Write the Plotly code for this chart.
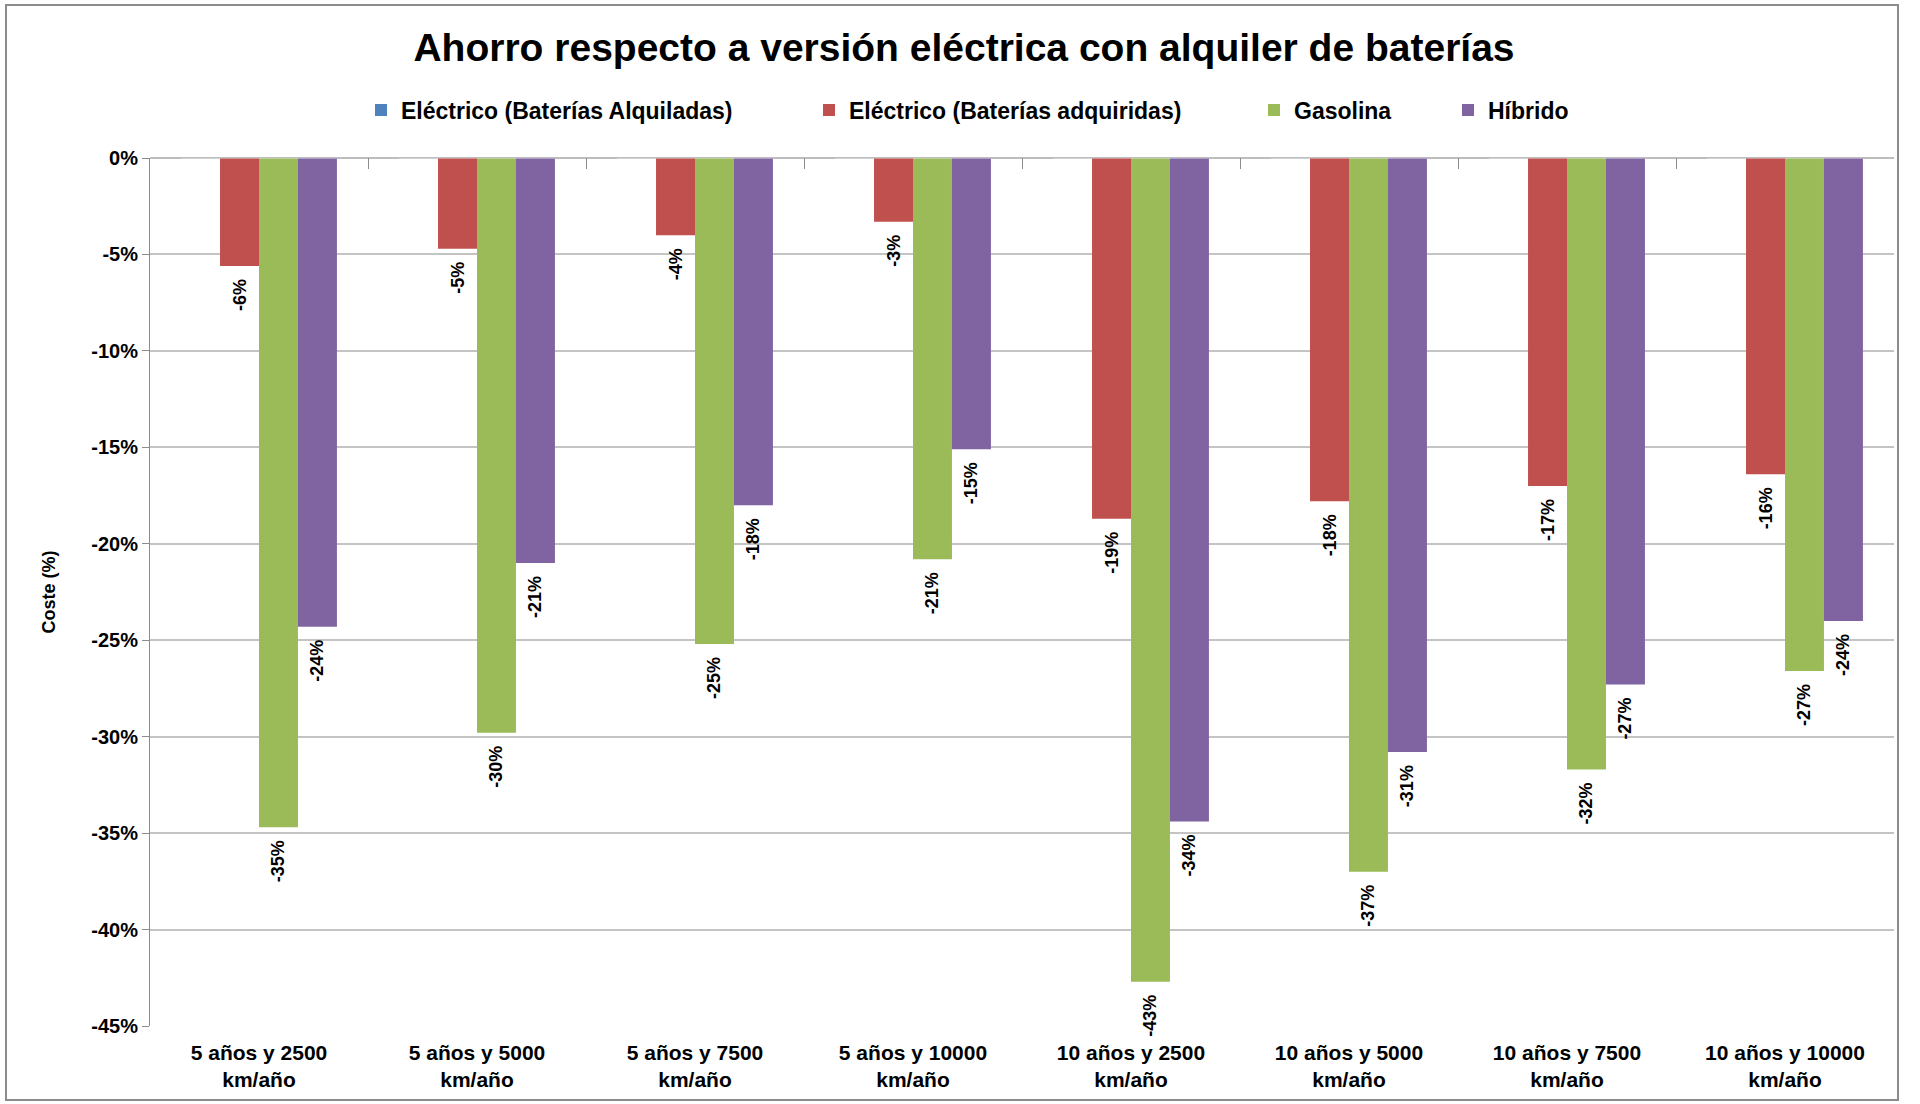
import plotly.graph_objects as go

# Categories and series (percent saving vs. the electric version with rented batteries)
categories = [
    "5 años y 2500<br>km/año", "5 años y 5000<br>km/año", "5 años y 7500<br>km/año",
    "5 años y 10000<br>km/año", "10 años y 2500<br>km/año", "10 años y 5000<br>km/año",
    "10 años y 7500<br>km/año", "10 años y 10000<br>km/año",
]
electrico_alquiladas = [0, 0, 0, 0, 0, 0, 0, 0]
electrico_adquiridas = [-5.6, -4.7, -4.0, -3.3, -18.7, -17.8, -17.0, -16.4]
gasolina = [-34.7, -29.8, -25.2, -20.8, -42.7, -37.0, -31.7, -26.6]
hibrido = [-24.3, -21.0, -18.0, -15.1, -34.4, -30.8, -27.3, -24.0]

y_ticks = [0, -5, -10, -15, -20, -25, -30, -35, -40, -45]
y_tick_text = [f"{v}%" for v in y_ticks]

FONT = "Liberation Sans, Arial, sans-serif"
W, H = 1920, 1104
M = dict(l=150, r=26, t=158, b=78)
pw = W - M["l"] - M["r"]
ph = H - M["t"] - M["b"]


def px_x(v):
    return (v - M["l"]) / pw


def px_y(v):
    return (H - M["b"] - v) / ph


# name, values, colour, labelled, legend id, legend left edge (px)
series = [
    ("Eléctrico (Baterías Alquiladas)", electrico_alquiladas, "#4F81BD", False, "legend", 361),
    ("Eléctrico (Baterías adquiridas)", electrico_adquiridas, "#C0504D", True, "legend2", 809),
    ("Gasolina", gasolina, "#9BBB59", True, "legend3", 1254),
    ("Híbrido", hibrido, "#8064A2", True, "legend4", 1448),
]

fig = go.Figure()
legend_layouts = {}
for name, vals, color, labelled, leg, left in series:
    fig.add_trace(go.Bar(
        name=name, x=categories, y=vals, legend=leg,
        marker=dict(color=color, line=dict(width=0)),
        texttemplate="%{y:.0f}%\u00a0\u00a0" if labelled else None,
        textposition="outside" if labelled else "none",
        textangle=-90,
        constraintext="none",
        cliponaxis=False,
        textfont=dict(family=FONT, size=18, color="#000000", weight="bold"),
    ))
    legend_layouts[leg] = dict(
        orientation="h", x=px_x(left), xanchor="left", y=px_y(110), yanchor="middle",
        bgcolor="rgba(0,0,0,0)", itemwidth=30,
        font=dict(family=FONT, size=23, weight="bold", color="#000000"),
    )

# frame around the whole chart
fig.add_shape(type="rect", xref="paper", yref="paper",
              x0=px_x(6), x1=px_x(1898), y0=px_y(1100), y1=px_y(5),
              line=dict(color="#8C8C8C", width=2), fillcolor="rgba(0,0,0,0)", layer="below")

fig.update_layout(
    width=W, height=H, margin=M,
    paper_bgcolor="white", plot_bgcolor="white",
    barmode="group", bargap=0.285, bargroupgap=0,
    font=dict(family=FONT, color="#000000"),
    title=dict(text="Ahorro respecto a versión eléctrica con alquiler de baterías",
               x=px_x(964), xref="paper", xanchor="center", y=1 - 47 / H, yanchor="middle",
               font=dict(family=FONT, size=39, weight="bold", color="#000000")),
    xaxis=dict(
        type="category", showgrid=False, zeroline=False, showline=False,
        ticks="", ticklabelstandoff=12,
        tickfont=dict(family=FONT, size=21, weight="bold"),
    ),
    xaxis2=dict(
        type="category", matches="x", overlaying="x", side="top",
        showticklabels=False, ticks="inside", ticklen=11, tickcolor="#8C8C8C",
        tickson="boundaries", showline=False, showgrid=False,
    ),
    yaxis=dict(
        range=[-45, 0], tickvals=y_ticks, ticktext=y_tick_text,
        showgrid=True, gridcolor="#C4C4C4", gridwidth=2,
        zeroline=True, zerolinecolor="#BDBDBD", zerolinewidth=2,
        showline=True, linecolor="#8C8C8C", linewidth=1,
        ticks="outside", ticklen=7, tickcolor="#8C8C8C",
        tickfont=dict(family=FONT, size=20, weight="bold"),
        title=dict(text="Coste (%)", standoff=30,
                   font=dict(family=FONT, size=18, weight="bold")),
    ),
    **legend_layouts,
)

# transparent trace on the top axis so the boundary tick marks show on the 0% line
fig.add_trace(go.Bar(x=categories, y=electrico_alquiladas, xaxis="x2", showlegend=False,
                     marker=dict(color="rgba(0,0,0,0)"), hoverinfo="skip"))

fig.write_html("out.html")
